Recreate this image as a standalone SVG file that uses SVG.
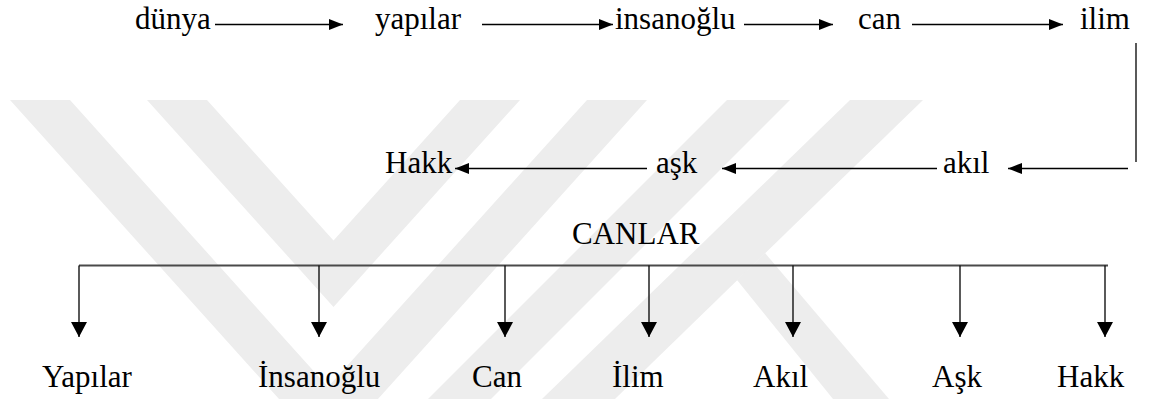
<svg xmlns="http://www.w3.org/2000/svg" width="1150" height="399" viewBox="0 0 1150 399">
<defs>
<marker id="ah" viewBox="0 0 14 11" refX="14" refY="5.5" markerWidth="14" markerHeight="11" markerUnits="userSpaceOnUse" orient="auto"><path d="M0,0 L14,5.5 L0,11 Z" fill="#000"/></marker>
<marker id="ahd" viewBox="0 0 15 16" refX="15" refY="8" markerWidth="15" markerHeight="16" markerUnits="userSpaceOnUse" orient="auto"><path d="M0,0 L15,8 L0,16 Z" fill="#000"/></marker>
</defs>
<rect width="1150" height="399" fill="#fff"/>
<g id="watermark" fill="#ededed">
<polygon points="147,100 207,100 333.5,240.6 460,100 520,100 333.5,307"/>
<polygon points="10,100 70,100 328,387 587,100 647,100 328.5,454"/>
<polygon points="727,100 790,100 491,399 428,399"/>
<polygon points="850,100 923,100 615,399 542,399"/>
<polygon points="765,253 889,399 833,399 737,280"/>
</g>
<g id="connectors" stroke="#000" stroke-width="1.3" fill="none">
<line x1="215" y1="24.5" x2="343" y2="24.5" marker-end="url(#ah)"/>
<line x1="482" y1="24.5" x2="613" y2="24.5" marker-end="url(#ah)"/>
<line x1="744" y1="24.5" x2="833" y2="24.5" marker-end="url(#ah)"/>
<line x1="912" y1="24.5" x2="1063" y2="24.5" marker-end="url(#ah)"/>
<line x1="1136" y1="43" x2="1136" y2="162"/>
<line x1="1128" y1="168.5" x2="1008" y2="168.5" marker-end="url(#ah)"/>
<line x1="937" y1="168.5" x2="722" y2="168.5" marker-end="url(#ah)"/>
<line x1="647" y1="168.5" x2="455" y2="168.5" marker-end="url(#ah)"/>
<line x1="79" y1="265.5" x2="1108" y2="265.5" stroke="#4a4a4a" stroke-width="2.2"/>
<line x1="79" y1="265.5" x2="79" y2="337" marker-end="url(#ahd)"/>
<line x1="319" y1="265.5" x2="319" y2="337" marker-end="url(#ahd)"/>
<line x1="505" y1="265.5" x2="505" y2="337" marker-end="url(#ahd)"/>
<line x1="649" y1="265.5" x2="649" y2="337" marker-end="url(#ahd)"/>
<line x1="793" y1="265.5" x2="793" y2="337" marker-end="url(#ahd)"/>
<line x1="960" y1="265.5" x2="960" y2="337" marker-end="url(#ahd)"/>
<line x1="1105" y1="265.5" x2="1105" y2="337" marker-end="url(#ahd)"/>
</g>
<g font-family="'Liberation Serif', Tinos, 'Noto Serif', 'DejaVu Serif', serif" font-size="31" fill="#000">
<g id="n-dunya"><text x="135" y="29">dünya</text></g>
<g id="n-yapilar"><text x="375" y="29">yapılar</text></g>
<g id="n-insanoglu"><text x="615" y="29">insanoğlu</text></g>
<g id="n-can"><text x="858" y="29">can</text></g>
<g id="n-ilim"><text x="1080" y="29">ilim</text></g>
<g id="n-akil"><text x="943" y="173">akıl</text></g>
<g id="n-ask"><text x="656" y="173">aşk</text></g>
<g id="n-hakk"><text x="385" y="173">Hakk</text></g>
<g id="n-canlar"><text x="572" y="244">CANLAR</text></g>
<g id="n-b-yapilar"><text x="42" y="387">Yapılar</text></g>
<g id="n-b-insanoglu"><text x="258" y="387">İnsanoğlu</text></g>
<g id="n-b-can"><text x="472" y="387">Can</text></g>
<g id="n-b-ilim"><text x="612" y="387">İlim</text></g>
<g id="n-b-akil"><text x="753" y="387">Akıl</text></g>
<g id="n-b-ask"><text x="932" y="387">Aşk</text></g>
<g id="n-b-hakk"><text x="1057" y="387">Hakk</text></g>
</g>
</svg>
